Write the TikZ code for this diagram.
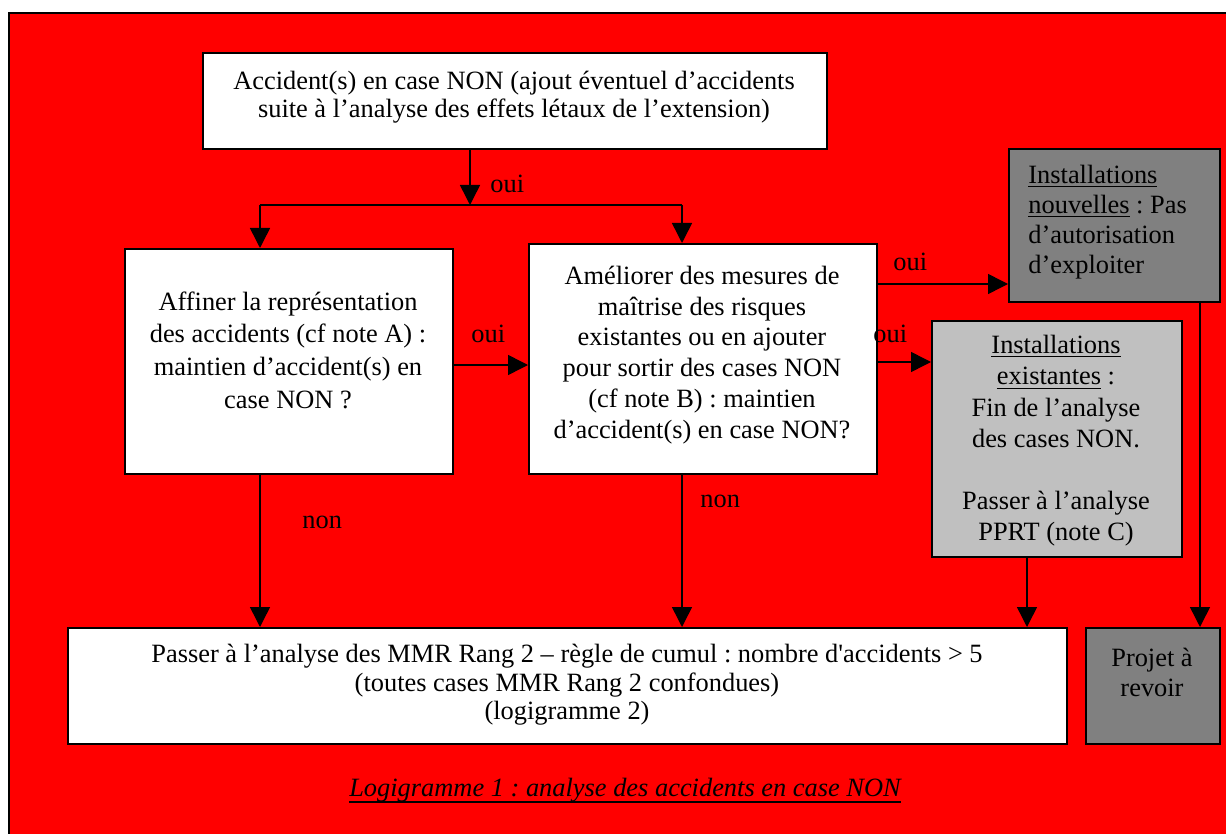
\documentclass[tikz,border=0pt]{standalone}
\usepackage{fontspec}
\setmainfont{Liberation Serif}
\usetikzlibrary{arrows.meta,calc}
\definecolor{alarm}{HTML}{FF0000}
\definecolor{darkbox}{HTML}{808080}
\definecolor{lightbox}{HTML}{C0C0C0}
\frenchspacing
\newcommand{\txt}[1]{\fontsize{13.2}{#1}\selectfont}
\newcommand{\thickul}[1]{\underline{\smash{#1}}}
\begin{document}
\begin{tikzpicture}[x=0.5pt,y=-0.5pt,
  box/.style={draw=black, line width=1pt, fill=white, inner sep=0pt, anchor=north west},
  words/.style={align=center, inner sep=0pt, font=\txt{15}},
  arr/.style={line width=0.75pt, -{Triangle[length=10pt,width=10pt]}},
  link/.style={line width=0.75pt},
  lbl/.style={font=\txt{15}, inner sep=0pt, anchor=west}]
\useasboundingbox (0,0) rectangle (1226,834);
\clip (0,0) rectangle (1226,834);
% red frame
\draw[line width=1pt, fill=alarm] (9,13) rectangle (1240,850);

% boxes
\node[box, minimum width=312pt, minimum height=48pt] (top) at (202,52) {};
\node[box, minimum width=164pt, minimum height=112.5pt] (A) at (124,248) {};
\node[box, minimum width=174pt, minimum height=115pt] (B) at (528,243) {};
\node[box, fill=darkbox, minimum width=105.5pt, minimum height=76.5pt] (new) at (1008,148) {};
\node[box, fill=lightbox, minimum width=125pt, minimum height=118pt] (exist) at (931,320) {};
\node[box, minimum width=499.5pt, minimum height=58pt] (mmr) at (67,627) {};
\node[box, fill=darkbox, minimum width=67pt, minimum height=58pt] (proj) at (1085,627) {};

% box texts
\node[words, font=\txt{14}] (topt) at (514,97)
  {Accident(s) en case NON (ajout éventuel d’accidents\\suite à l’analyse des effets létaux de l’extension)};
\node[words, font=\txt{16.3}] (At) at (288,350)
  {Affiner la représentation\\des accidents (cf note A) :\\maintien d’accident(s) en\\case NON ?};
\node[words, font=\txt{15.4}] (Bt) at (702,355)
  {Améliorer des mesures de\\maîtrise des risques\\existantes ou en ajouter\\pour sortir des cases NON\\(cf note B) : maintien\\d’accident(s) en case NON?};
\node[words, align=left, anchor=west] (newt) at (1028,222)
  {\underline{Installations}\\\underline{nouvelles} : Pas\\d’autorisation\\d’exploiter};
\node[words, font=\txt{15.6}] (existt) at (1056,441)
  {\underline{Installations}\\\underline{existantes} :\\Fin de l’analyse\\des cases NON.\\[15.6pt]Passer à l’analyse\\PPRT (note C)};
\node[words, font=\txt{14.3}] (mmrt) at (567,685)
  {Passer à l’analyse des MMR Rang 2 – règle de cumul : nombre d\textquotesingle accidents > 5\\(toutes cases MMR Rang 2 confondues)\\(logigramme 2)};
\node[words] (projt) at (1152,672) {Projet à\\revoir};

% connectors
\coordinate (split) at (470,205);
\coordinate (sl) at (260,205);
\coordinate (sr) at (682,205);
\draw[arr] (top.south -| split) -- (split);
\draw[link] (sl) -- (sr);
\draw[arr] (sl) -- (sl |- A.north);
\draw[arr] (sr) -- (sr |- B.north);
\node[lbl] (l1) at (490,184) {oui};

\draw[arr] (A.east |- 0,365) -- (B.west |- 0,365);
\node[lbl] (l2) at (471,334) {oui};

\draw[arr] (B.east |- 0,284) -- (new.west |- 0,284);
\node[lbl] (l3) at (893,262) {oui};
\draw[arr] (B.east |- 0,362) -- (exist.west |- 0,362);
\node[lbl] (l4) at (873,334) {oui};

\draw[arr] (A.south -| sl) -- (mmr.north -| sl);
\node[lbl] (l5) at (302,522) {non};
\draw[arr] (B.south -| sr) -- (mmr.north -| sr);
\node[lbl] (l6) at (700,501) {non};

\coordinate (ex) at (1027,0);
\draw[arr] (exist.south -| ex) -- (mmr.north -| ex);
\coordinate (nx) at (1200,0);
\draw[arr] (new.south -| nx) -- (proj.north -| nx);

% caption, with a heavier rule beneath it
\node[font=\fontsize{13.2}{15}\selectfont\itshape, inner sep=0pt, anchor=base] (cap) at (625,796)
  {Logigramme 1 : analyse des accidents en case NON};
\draw[line width=1pt] ([yshift=-3pt]cap.base west) -- ([yshift=-3pt]cap.base east);
\end{tikzpicture}
\end{document}
